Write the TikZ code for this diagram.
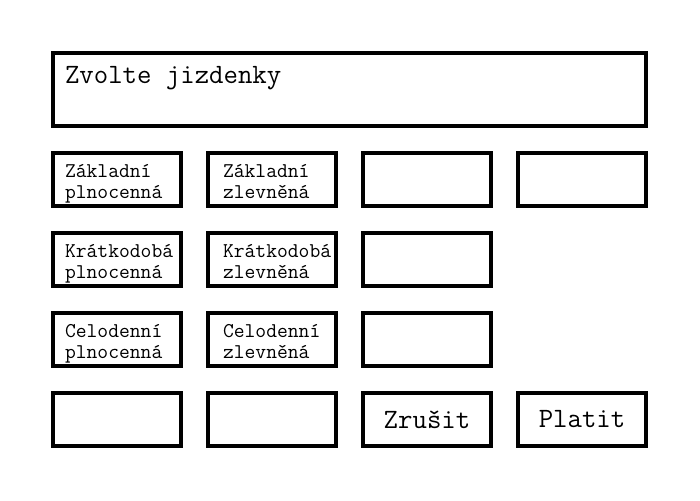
\documentclass[tikz,border=0pt]{standalone}
\newcommand{\smalltext}{\ttfamily\fontsize{21}{21.5}\selectfont}
\newcommand{\bigtext}{\ttfamily\fontsize{28}{30}\selectfont}

\begin{document}
\begin{tikzpicture}[x=1pt,y=-1pt]
  \tikzstyle{every node}=[draw,line width=4pt,minimum width=128pt,minimum height=53pt,inner sep=0pt]
  \tikzstyle{leftcol}=[align=left,font=\smalltext,inner xsep=12pt,text width=104pt,text height=14pt,text depth=19pt]
  \tikzstyle{rightcol}=[align=left,font=\smalltext,inner xsep=15pt,text width=98pt,text height=14pt,text depth=19pt]
  \useasboundingbox (0,0) rectangle (700,500);

  % header
  \node[minimum width=593pt,minimum height=73pt] (title) at (349.5,89.5) {};
  \node[draw=none,anchor=north west,minimum width=0pt,minimum height=0pt,font=\bigtext] (titletext) at ([xshift=12pt,yshift=-13pt]title.north west) {Zvolte jizdenky};

  % ticket rows
  \node[leftcol] (zakladpln) at (117,179.5) {Základní\\plnocenná};
  \node[rightcol] (zakladzlev) at (272,179.5) {Základní\\zlevněná};
  \node (prazdny1) at (427,179.5) {};
  \node (prazdny2) at (582,179.5) {};

  \node[leftcol] (kratpln) at (117,259.5) {Krátkodobá\\plnocenná};
  \node[rightcol] (kratzlev) at (272,259.5) {Krátkodobá\\zlevněná};
  \node (prazdny3) at (427,259.5) {};

  \node[leftcol] (celopln) at (117,339.5) {Celodenní\\plnocenná};
  \node[rightcol] (celozlev) at (272,339.5) {Celodenní\\zlevněná};
  \node (prazdny4) at (427,339.5) {};

  % buttons
  \node (prazdny5) at (117,419.5) {};
  \node (prazdny6) at (272,419.5) {};
  \node[font=\bigtext] (zrusit) at (427,419.5) {Zrušit};
  \node[font=\bigtext] (platit) at (582,419.5) {Platit};

\end{tikzpicture}
\end{document}
